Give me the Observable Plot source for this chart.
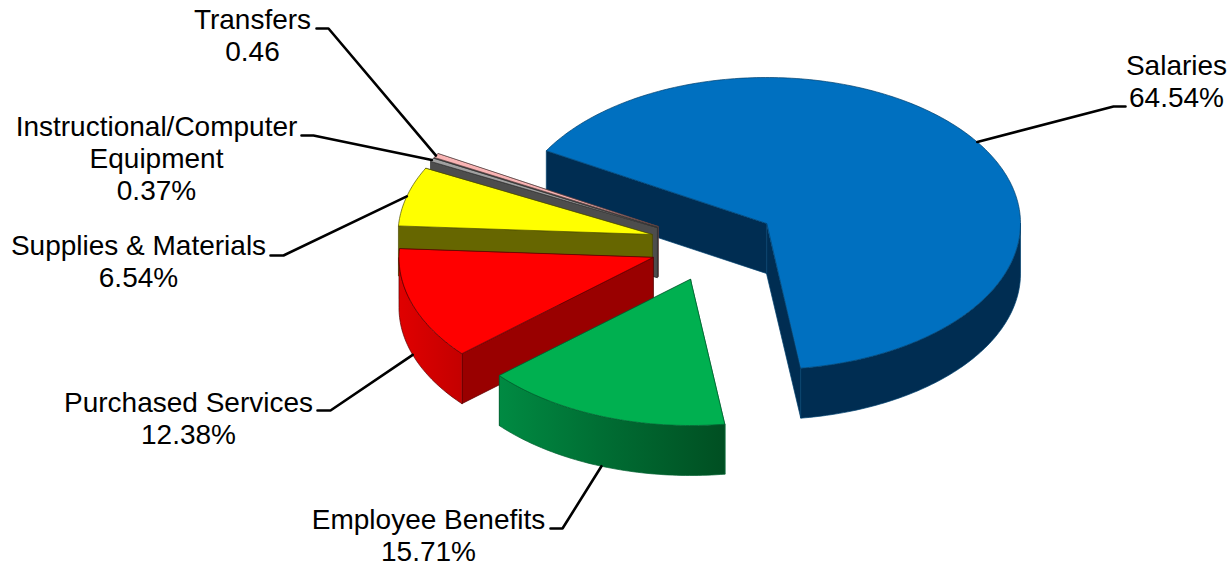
<!DOCTYPE html>
<html>
<head>
<meta charset="utf-8">
<title>Expenditures by category</title>
<style>
  html, body { margin: 0; padding: 0; background: #fff; }
  svg { display: block; }
</style>
<script src="https://cdn.jsdelivr.net/npm/d3@7"></script>
<script src="https://cdn.jsdelivr.net/npm/@observablehq/plot@0.6"></script>
</head>
<body>
<div id="chart"></div>
<script>
// Expenditure shares, in clockwise order
const categories = ["Salaries", "Employee Benefits", "Purchased Services", "Supplies & Materials", "Instructional/Computer\nEquipment", "Transfers"];
const shares = [64.54, 15.71, 12.38, 6.54, 0.37, 0.46];
const suffixes = ["%", "%", "%", "%", "%", ""];

// Slice colours: top face, cut face, rim
const topColors = ["#0070c0", "#00b050", "#ff0000", "#ffff00", "#a0a0a0", "#f9b4b4"];
const cutColors = ["#002d52", "#005c2a", "#990000", "#666600", "#4d4d4d", "#4d4d4d"];
const rimColors = ["url(#rimBlue)", "url(#rimGreen)", "url(#rimRed)", "#666600", "#4d4d4d", "#4d4d4d"];
const edgeColors = ["#00406e", "#00602f", "#5c0000", "#4d4d00", "#333333", "#5a4040"];

// Projection of the tilted disc and where each exploded slice sits
const radiusX = 254, radiusY = 146, depth = 50, firstAngle = 299.9;
const centersX = [766, 690, 652.5, 651.5, 656.5, 657.5];
const centersY = [223, 279, 257, 234, 227, 226];

// Label anchors and leader elbows
const labelX = [1176, 428, 188, 138, 156, 252];
const labelY = [106, 560, 443, 286, 199, 60];
const elbowX = [1113, 562, 330, 283, 313, 328];
const elbowY = [106, 528, 410, 255, 135, 28];
const tailX = [1125, 550, 317, 270, 301, 316];

const rad = d => d * Math.PI / 180;
const total = d3.sum(shares);
let running = firstAngle;
const slices = shares.map((v, i) => {
  const start = running, end = running + v / total * 360;
  running = end;
  return {i, start, end, mid: (start + end) / 2, cx: centersX[i], cy: centersY[i]};
});

const rimPoint = (s, deg, drop = 0) => ({
  x: s.cx + radiusX * Math.sin(rad(deg)),
  y: s.cy - radiusY * Math.cos(rad(deg)) + drop
});
const arc = (s, a, b, drop = 0) => {
  const n = Math.max(2, Math.ceil(Math.abs(b - a)));
  return d3.range(n + 1).map(k => rimPoint(s, a + (b - a) * k / n, drop));
};
const apex = (s, drop = 0) => ({x: s.cx, y: s.cy + drop});

// Cut wall running from the slice's apex out to the rim at one angle
const cutWall = (s, deg) => [apex(s), rimPoint(s, deg), rimPoint(s, deg, depth), apex(s, depth)];

// The part of the rim wall on the viewer's side of the disc (90..270 degrees, mod 360)
function rimWall(s) {
  const parts = [];
  for (const shift of [0, 360]) {
    const a = Math.max(s.start, 90 + shift), b = Math.min(s.end, 270 + shift);
    if (a < b) parts.push([...arc(s, a, b), ...arc(s, b, a, depth)]);
  }
  return parts;
}

const face = (pts, fill, stroke, strokeWidth = 0.7) =>
  Plot.line(pts, {x: "x", y: "y", fill, stroke, strokeWidth, curve: "linear-closed", strokeLinejoin: "round"});

function sliceMarks(s) {
  const marks = [];
  marks.push(face(cutWall(s, s.end), cutColors[s.i], edgeColors[s.i]));
  marks.push(face(cutWall(s, s.start), cutColors[s.i], edgeColors[s.i]));
  for (const wall of rimWall(s)) marks.push(face(wall, rimColors[s.i], edgeColors[s.i]));
  marks.push(face([apex(s), ...arc(s, s.start, s.end)], topColors[s.i], edgeColors[s.i]));
  return marks;
}

// Back-to-front paint order
const paintOrder = [0, 5, 4, 3, 2, 1];

// Each leader ends on the rim at the slice's middle angle
const leaders = slices.flatMap(s => {
  const norm = ((s.mid % 360) + 360) % 360;
  const drop = norm > 90 && norm < 270 ? depth : 0;
  const end = rimPoint(s, s.mid, drop);
  return [
    {k: s.i, x: tailX[s.i], y: elbowY[s.i]},
    {k: s.i, x: elbowX[s.i], y: elbowY[s.i]},
    {k: s.i, x: end.x, y: end.y}
  ];
});

const labels = slices.map(s => ({
  x: labelX[s.i],
  y: labelY[s.i],
  text: `${categories[s.i]}\n${shares[s.i].toFixed(2)}${suffixes[s.i]}`
}));

const gradient = (id, stops) => `<linearGradient id="${id}" x1="0" x2="1" y1="0" y2="0">` +
  stops.map(([o, c]) => `<stop offset="${o}" stop-color="${c}"/>`).join("") + `</linearGradient>`;

const defs = () => {
  const g = document.createElementNS("http://www.w3.org/2000/svg", "g");
  g.innerHTML = "<defs>" +
    gradient("rimBlue", [[0, "#002d52"], [1, "#002d52"]]) +
    gradient("rimGreen", [[0, "#008a42"], [0.5, "#006b32"], [1, "#004f22"]]) +
    gradient("rimRed", [[0, "#e00000"], [1, "#c40000"]]) +
    "</defs>";
  return g;
};

const chart = Plot.plot({
  width: 1231,
  height: 562,
  margin: 0,
  style: {background: "#fff"},
  x: {domain: [0, 1231], range: [0, 1231], axis: null},
  y: {domain: [0, 562], range: [0, 562], axis: null},
  marks: [
    defs,
    ...paintOrder.flatMap(i => sliceMarks(slices[i])),
    Plot.line(leaders, {x: "x", y: "y", z: "k", stroke: "#000", strokeWidth: 2.6, strokeLinejoin: "miter"}),
    Plot.text(labels, {
      x: "x", y: "y", text: "text",
      textAnchor: "middle", lineAnchor: "bottom", lineHeight: 1.143,
      fontFamily: "Liberation Sans", fontSize: 28, fill: "#000"
    })
  ]
});
document.getElementById("chart").append(chart);
</script>
</body>
</html>
